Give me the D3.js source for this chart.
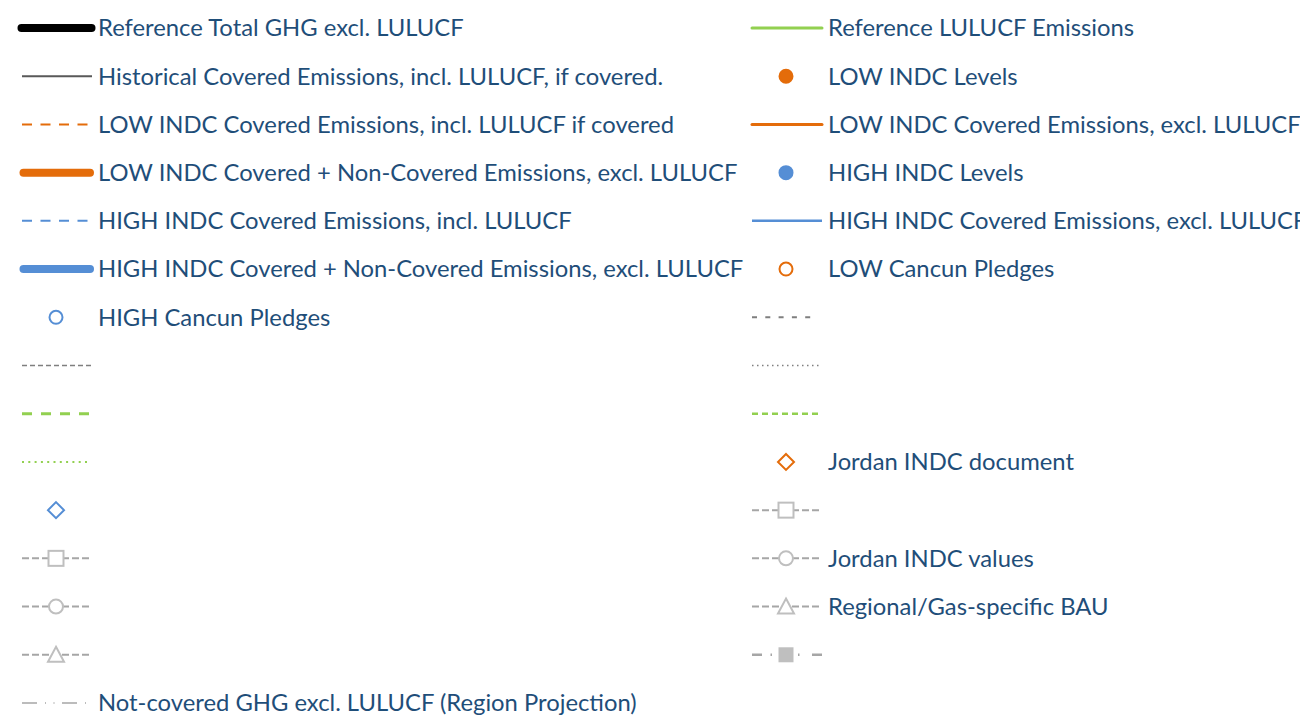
<!DOCTYPE html>
<html><head><meta charset="utf-8">
<script src="https://cdn.jsdelivr.net/npm/d3@7"></script>
<style>html,body{margin:0;padding:0;background:#fff;overflow:hidden}</style>
</head><body><svg id="c" width="1300" height="724"></svg>
<script>
// ---- legend data ----
const leftLabels = [
  "Reference Total GHG excl. LULUCF",
  "Historical Covered Emissions, incl. LULUCF, if covered.",
  "LOW INDC Covered Emissions, incl. LULUCF if covered",
  "LOW INDC Covered + Non-Covered Emissions, excl. LULUCF",
  "HIGH INDC Covered Emissions, incl. LULUCF",
  "HIGH INDC Covered + Non-Covered Emissions, excl. LULUCF",
  "HIGH Cancun Pledges",
  "", "", "", "", "", "", "",
  "Not-covered GHG excl. LULUCF (Region Projection)"
];
const leftKeys = ["refTotal","hist","lowInclDash","lowThick","highInclDash","highThick","highCancun",
  "grayShortDash","greenDash","greenDot","highDiamond","graySquare","grayCircle","grayTriangle","notCovered"];
const rightLabels = [
  "Reference LULUCF Emissions",
  "LOW INDC Levels",
  "LOW INDC Covered Emissions, excl. LULUCF",
  "HIGH INDC Levels",
  "HIGH INDC Covered Emissions, excl. LULUCF",
  "LOW Cancun Pledges",
  "", "", "",
  "Jordan INDC document",
  "",
  "Jordan INDC values",
  "Regional/Gas-specific BAU",
  ""
];
const rightKeys = ["refLulucf","lowLevels","lowExcl","highLevels","highExcl","lowCancun",
  "grayDash","grayDot","greenShortDash","jordanDoc","graySquare","grayCircle","grayTriangle","grayDashDotSquare"];

// ---- styles ----
const ORANGE="#E46C0A", BLUE="#558ED5", GREEN="#92D050", TXT="#1F4E79";
const styles = {
  refTotal:{line:{c:"#000",w:8,cap:"round",x0:-0.5,x1:69.5}},
  hist:{line:{c:"#595959",w:2}},
  lowInclDash:{line:{c:ORANGE,w:2,dash:"10,8.5"}},
  lowThick:{line:{c:ORANGE,w:8,cap:"round",x0:1.5,x1:68}},
  highInclDash:{line:{c:BLUE,w:2,dash:"10,8.5"}},
  highThick:{line:{c:BLUE,w:8,cap:"round",x0:1.5,x1:68}},
  highCancun:{marker:{t:"circle",stroke:BLUE,fill:"#fff",r:6.5}},
  grayShortDash:{line:{c:"#7F7F7F",w:1.5,dash:"5,3"}},
  greenDash:{line:{c:GREEN,w:3,dash:"10,9"}},
  greenDot:{line:{c:GREEN,w:2,dash:"2,4.3",x1:66}},
  highDiamond:{marker:{t:"diamond",stroke:BLUE,fill:"#fff",r:8}},
  graySquare:{line:{c:"#A6A6A6",w:2,dash:"7,3"},marker:{t:"square",stroke:"#BFBFBF",fill:"#fff",r:7.5}},
  grayCircle:{line:{c:"#A6A6A6",w:2,dash:"7,3"},marker:{t:"circle",stroke:"#BFBFBF",fill:"#fff",r:7}},
  grayTriangle:{line:{c:"#A6A6A6",w:2,dash:"7,3"},marker:{t:"triangle",stroke:"#BFBFBF",fill:"#fff",r:8}},
  notCovered:{line:{c:"#A6A6A6",w:1.5,dash:"15,8,1,7.5,1,7.5"}},
  refLulucf:{line:{c:GREEN,w:3,cap:"round"}},
  lowLevels:{marker:{t:"circle",stroke:ORANGE,fill:ORANGE,r:6.5}},
  lowExcl:{line:{c:ORANGE,w:3,cap:"round"}},
  highLevels:{marker:{t:"circle",stroke:BLUE,fill:BLUE,r:6.5}},
  highExcl:{line:{c:BLUE,w:2.5}},
  lowCancun:{marker:{t:"circle",stroke:ORANGE,fill:"#fff",r:6.5}},
  grayDash:{line:{c:"#7F7F7F",w:2,dash:"5,8.3",x1:66}},
  grayDot:{line:{c:"#7F7F7F",w:1.5,dash:"1.5,3.5"}},
  greenShortDash:{line:{c:GREEN,w:2.5,dash:"6,4"}},
  jordanDoc:{marker:{t:"diamond",stroke:ORANGE,fill:"#fff",r:8}},
  grayDashDotSquare:{line:{c:"#A6A6A6",w:2.5,dash:"10,8.5,1.5,8,12,6,1.5,12.5,10"},marker:{t:"square",stroke:"#BFBFBF",fill:"#BFBFBF",r:6.5}}
};

const svg = d3.select("#c");
const nRows = leftLabels.length;
const y = d3.scalePoint().domain(d3.range(nRows)).range([28, 703]);
const col = d3.scaleOrdinal().domain(["L","R"]).range([22, 752]);
const SYMW = 70, TXTX = 76;

const items = [];
leftLabels.forEach((l,i)=>items.push({col:"L",row:i,label:l,key:leftKeys[i]}));
rightLabels.forEach((l,i)=>items.push({col:"R",row:i,label:l,key:rightKeys[i]}));

const g = svg.selectAll("g.item").data(items).join("g")
  .attr("class","item")
  .attr("transform",d=>`translate(${col(d.col)},${y(d.row)})`);

g.each(function(d){
  const s = styles[d.key], gg = d3.select(this);
  if (s.line){
    const L = s.line;
    gg.append("line")
      .attr("x1",L.x0!=null?L.x0:0).attr("x2",L.x1!=null?L.x1:SYMW)
      .attr("y1",0).attr("y2",0)
      .attr("stroke",L.c).attr("stroke-width",L.w)
      .attr("stroke-linecap",L.cap||"butt")
      .attr("stroke-dasharray",L.dash||null);
  }
  if (s.marker){
    const M = s.marker, cx = SYMW/2 - 1;
    let sym;
    if (M.t==="circle") sym = gg.append("circle").attr("cx",cx).attr("cy",0).attr("r",M.r);
    else if (M.t==="square") sym = gg.append("rect").attr("x",cx-M.r).attr("y",-M.r).attr("width",2*M.r).attr("height",2*M.r);
    else if (M.t==="diamond") sym = gg.append("path").attr("d",`M${cx},${-M.r}L${cx+M.r},0L${cx},${M.r}L${cx-M.r},0Z`);
    else if (M.t==="triangle") sym = gg.append("path").attr("d",`M${cx},${-M.r}L${cx+M.r},${M.r-1}L${cx-M.r},${M.r-1}Z`);
    sym.attr("fill",M.fill).attr("stroke",M.stroke).attr("stroke-width",2);
  }
  if (d.label){
    gg.append("text").attr("x",TXTX).attr("y",0).attr("dy","0.35em")
      .attr("fill",TXT)
      .style("font-family","Lato, 'Open Sans', sans-serif")
      .style("font-size","23.8px")
      .text(d.label);
  }
});
</script></body></html>
